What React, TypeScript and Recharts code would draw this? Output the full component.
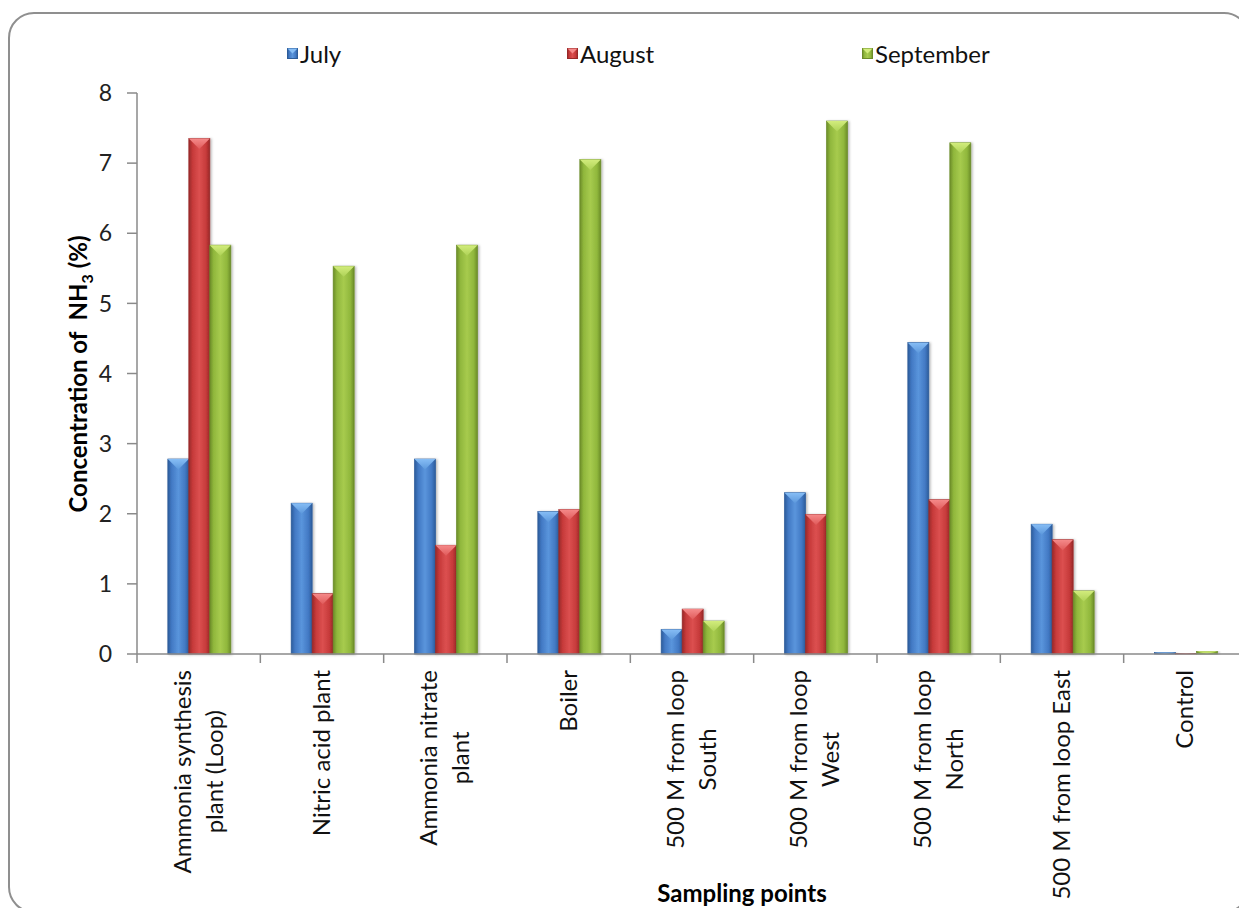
import React from 'react';
import { BarChart, Bar, XAxis, YAxis, Legend } from 'recharts';

// Sampling points along the horizontal axis (line breaks as printed)
const categoryLines: string[][] = [
  ['Ammonia synthesis', 'plant (Loop)'],
  ['Nitric acid plant'],
  ['Ammonia nitrate', 'plant'],
  ['Boiler'],
  ['500 M from loop', 'South'],
  ['500 M from loop', 'West'],
  ['500 M from loop', 'North'],
  ['500 M from loop East'],
  ['Control'],
];
const categories = categoryLines.map((l) => l.join(' '));

// NH3 concentration (%) per month
const july = [2.78, 2.15, 2.78, 2.03, 0.35, 2.3, 4.44, 1.85, 0.02];
const august = [7.35, 0.86, 1.55, 2.06, 0.64, 1.99, 2.2, 1.63, 0.01];
const september = [5.83, 5.53, 5.83, 7.05, 0.47, 7.6, 7.29, 0.9, 0.04];

const yTicks = [0, 1, 2, 3, 4, 5, 6, 7, 8];

const data = categories.map((c, i) => ({
  category: c,
  july: july[i],
  august: august[i],
  september: september[i],
}));

type SeriesStyle = {
  key: string;
  name: string;
  dark: string;
  mid: string;
  light: string;
  cap: string;
  capDark: string;
};

const seriesStyles: SeriesStyle[] = [
  { key: 'july', name: 'July', dark: '#2c5c9a', mid: '#4279c4', light: '#5a95dc', cap: '#86bdf5', capDark: '#5c98dc' },
  { key: 'august', name: 'August', dark: '#982828', mid: '#c63a3a', light: '#dc5050', cap: '#f58a8a', capDark: '#e05a5a' },
  { key: 'september', name: 'September', dark: '#6b8c28', mid: '#90b73c', light: '#a7cb4e', cap: '#d2ec7c', capDark: '#aed257' },
];

const FONT = 'Lato, "Open Sans", sans-serif';
const AXIS_GREY = '#8a8a8a';
const LABEL_SIZE = 24;
const LINE_STEP = 32;

let measureCtx: CanvasRenderingContext2D | null = null;
function textWidth(s: string): number {
  if (!measureCtx) {
    const c = document.createElement('canvas');
    measureCtx = c.getContext('2d');
  }
  if (!measureCtx) return s.length * LABEL_SIZE * 0.5;
  measureCtx.font = `${LABEL_SIZE}px Lato`;
  return measureCtx.measureText(s).width;
}

function BevelBar(props: any) {
  const { x, y, width, height, s } = props;
  if (!(width > 0) || !(height > 0)) return null;
  const cap = Math.min(width / 2, height);
  return (
    <g filter="url(#barShadow)">
      <rect x={x} y={y} width={width} height={height} fill={`url(#body-${s.key})`} stroke={s.dark} strokeWidth={0.7} />
      <polygon
        points={`${x},${y} ${x + width},${y} ${x + width / 2},${y + cap}`}
        fill={`url(#cap-${s.key})`}
      />
    </g>
  );
}

function CategoryTick(props: any) {
  const { x, y, payload, index } = props;
  const idx = payload?.index ?? index;
  const lines = categoryLines[idx] || [String(payload?.value ?? '')];
  const half = payload?.offset ?? 61.6;
  const maxW = Math.max(...lines.map(textWidth));
  const n = lines.length;
  const top = y + 16;
  return (
    <g>
      <line x1={x - half} x2={x - half} y1={y} y2={y + 9} stroke={AXIS_GREY} strokeWidth={1.5} />
      <g transform={`translate(${x}, ${top + maxW / 2}) rotate(-90)`}>
        {lines.map((l, i) => (
          <text
            key={i}
            x={0}
            y={(i - (n - 1) / 2) * LINE_STEP + 8}
            textAnchor="middle"
            fontFamily={FONT}
            fontSize={LABEL_SIZE}
            fill="#111"
          >
            {l}
          </text>
        ))}
      </g>
    </g>
  );
}

function YTitle() {
  const cx = 87;
  const cy = 374;
  return (
    <text
      x={cx}
      y={cy}
      transform={`rotate(-90 ${cx} ${cy})`}
      textAnchor="middle"
      fontFamily={FONT}
      fontWeight={700}
      fontSize={24}
      fill="#000"
      style={{ whiteSpace: 'pre' }}
    >
      {'Concentration of  NH'}
      <tspan dy={6} fontSize={16}>3</tspan>
      <tspan dy={-6}>{' (%)'}</tspan>
    </text>
  );
}

function XTitle() {
  return (
    <text x={742} y={902} textAnchor="middle" fontFamily={FONT} fontWeight={700} fontSize={24} fill="#000">
      Sampling points
    </text>
  );
}

const legendWidths = [280, 295, 200];

function LegendContent() {
  return (
    <div style={{ display: 'flex', alignItems: 'center', fontFamily: FONT, fontSize: 24, color: '#111' }}>
      {seriesStyles.map((s, i) => (
        <div key={s.key} style={{ display: 'flex', alignItems: 'center', width: legendWidths[i] }}>
          <svg width={11} height={11} style={{ marginRight: 2 }}>
            <rect x={0.5} y={0.5} width={10} height={10} fill={`url(#body-${s.key})`} stroke={s.dark} strokeWidth={1} />
            <polygon points="0.5,0.5 10.5,0.5 5.5,5.5" fill={s.cap} />
          </svg>
          <span>{s.name}</span>
        </div>
      ))}
    </div>
  );
}

export default function App() {
  return (
    <div style={{ position: 'absolute', left: 0, top: 0, width: 1239, height: 908, overflow: 'hidden', background: '#fff' }}>
      <div
        style={{
          position: 'absolute',
          left: 8,
          top: 12,
          width: 1242,
          height: 901,
          border: '2px solid #8f8f8f',
          borderRadius: 26,
          boxSizing: 'border-box',
        }}
      />
      <div style={{ position: 'absolute', left: 0, top: 0 }}>
        <BarChart
          width={1260}
          height={908}
          data={data}
          margin={{ top: 93, right: 13, left: 77, bottom: 34 }}
          barCategoryGap="25%"
          barGap={0}
        >
          <defs>
            <filter id="barShadow" x="-30%" y="-5%" width="160%" height="110%">
              <feDropShadow dx={1.5} dy={0.5} stdDeviation={1.2} floodColor="#000" floodOpacity={0.28} />
            </filter>
            {seriesStyles.map((s) => (
              <linearGradient key={`b-${s.key}`} id={`body-${s.key}`} x1="0" y1="0" x2="1" y2="0">
                <stop offset="0%" stopColor={s.dark} />
                <stop offset="18%" stopColor={s.mid} />
                <stop offset="50%" stopColor={s.light} />
                <stop offset="82%" stopColor={s.mid} />
                <stop offset="100%" stopColor={s.dark} />
              </linearGradient>
            ))}
            {seriesStyles.map((s) => (
              <linearGradient key={`c-${s.key}`} id={`cap-${s.key}`} x1="0" y1="0" x2="0" y2="1">
                <stop offset="0%" stopColor={s.cap} />
                <stop offset="100%" stopColor={s.capDark} />
              </linearGradient>
            ))}
          </defs>
          <XAxis
            dataKey="category"
            height={220}
            interval={0}
            tickLine={false}
            tickSize={0}
            tickMargin={0}
            axisLine={{ stroke: AXIS_GREY, strokeWidth: 1.5 }}
            tick={<CategoryTick />}
            label={<XTitle />}
          />
          <YAxis
            width={60}
            domain={[0, 8]}
            ticks={yTicks}
            interval={0}
            tickSize={10}
            tickMargin={15}
            tickLine={{ stroke: AXIS_GREY, strokeWidth: 1.5 }}
            axisLine={{ stroke: AXIS_GREY, strokeWidth: 1.5 }}
            tick={{ fontFamily: FONT, fontSize: 23, fill: '#222' }}
            label={<YTitle />}
          />
          <Legend
            verticalAlign="middle"
            layout="horizontal"
            content={<LegendContent />}
            wrapperStyle={{ top: 39, left: 287, width: 800 }}
          />
          {seriesStyles.map((s) => (
            <Bar
              key={s.key}
              dataKey={s.key}
              name={s.name}
              fill={s.mid}
              isAnimationActive={false}
              shape={(p: any) => <BevelBar {...p} s={s} />}
            />
          ))}
        </BarChart>
      </div>
    </div>
  );
}
